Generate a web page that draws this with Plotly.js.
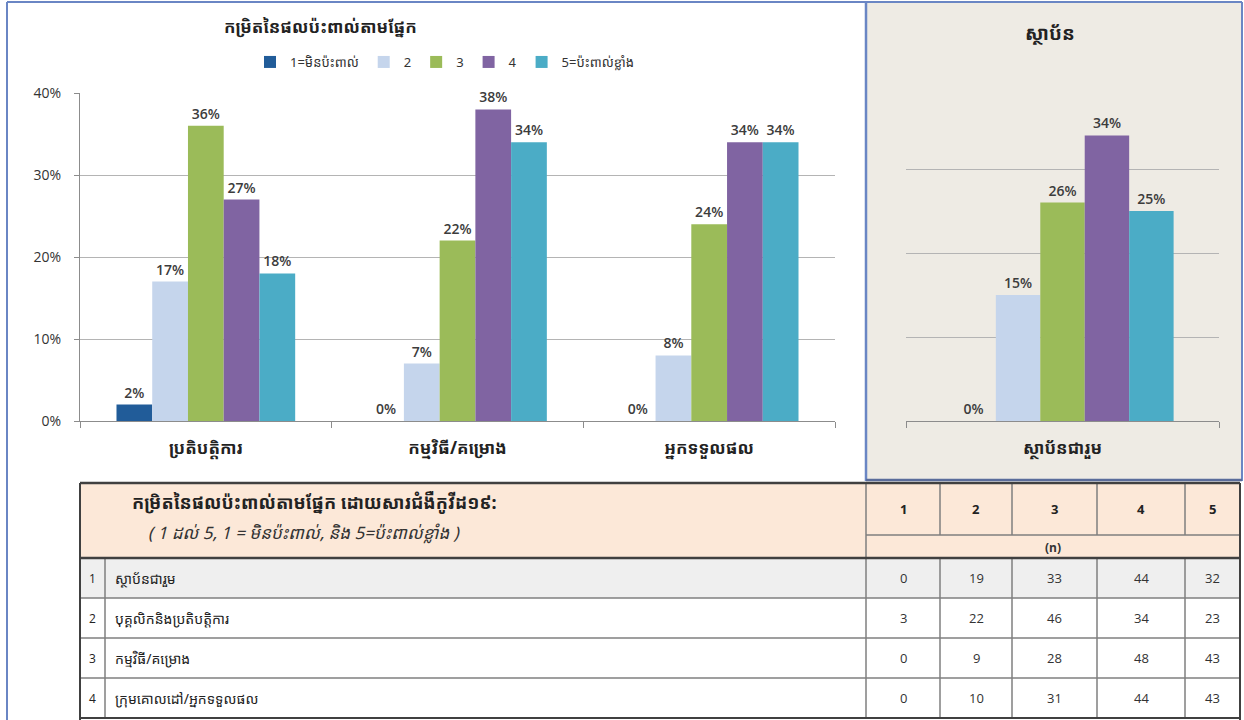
<!DOCTYPE html>
<html>
<head>
<meta charset="utf-8">
<script src="https://cdn.plot.ly/plotly-3.0.1.min.js"></script>
<style>
  html, body { margin: 0; padding: 0; background: #ffffff; }
  #chart { width: 1244px; height: 720px; }
</style>
</head>
<body>
<div id="chart"></div>
<script>
// ---------------- DATA ----------------
const chartTitle = "កម្រិតនៃផលប៉ះពាល់តាមផ្នែក";
const sideTitle = "ស្ថាប័ន";
const categories = ["ប្រតិបត្តិការ", "កម្មវិធី/គម្រោង", "អ្នកទទួលផល"];
const sideCategories = ["ស្ថាប័នជារួម"];
const seriesNames = ["1=មិនប៉ះពាល់", "2", "3", "4", "5=ប៉ះពាល់ខ្លាំង"];
// percentages per series, across categories
const level1 = [2, 0, 0];
const level2 = [17, 7, 8];
const level3 = [36, 22, 24];
const level4 = [27, 38, 34];
const level5 = [18, 34, 34];
// institution overall (right panel), per series
const overall = [0, 15, 26, 34, 25];
const yTicks = [0, 10, 20, 30, 40];
const yTickLabels = ["0%", "10%", "20%", "30%", "40%"];

// table
const tableTitle = "កម្រិតនៃផលប៉ះពាល់តាមផ្នែក ដោយសារជំងឺកូវីដ១៩:";
const tableSubtitle = "( 1 ដល់ 5, 1 = មិនប៉ះពាល់, និង 5=ប៉ះពាល់ខ្លាំង )";
const tableLevels = ["1", "2", "3", "4", "5"];
const tableUnit = "(n)";
const rowIndex = ["1", "2", "3", "4"];
const rowLabels = ["ស្ថាប័នជារួម", "បុគ្គលិកនិងប្រតិបត្តិការ", "កម្មវិធី/គម្រោង", "ក្រុមគោលដៅ/អ្នកទទួលផល"];
const countsOverall = [0, 19, 33, 44, 32];
const countsStaff = [3, 22, 46, 34, 23];
const countsProgram = [0, 9, 28, 48, 43];
const countsTarget = [0, 10, 31, 44, 43];

// ---------------- STYLE ----------------
const W = 1244, H = 720;
const px = x => x / W;
const py = y => 1 - y / H;
const colors = ["#215C99", "#C5D5EC", "#9BBB59", "#8064A2", "#4BACC6"];
const KH = "'Noto Sans Khmer', 'Khmer OS', 'Noto Sans', 'DejaVu Sans', sans-serif";
const NUM = "'Open Sans', 'Noto Sans', sans-serif";
const labelFont = {family: NUM, size: 14, color: "#3C3C3C", weight: 600};

const seriesValues = [level1, level2, level3, level4, level5];
const traces = [];
seriesValues.forEach((vals, i) => {
  traces.push({
    type: "bar", name: seriesNames[i], x: categories, y: vals,
    xaxis: "x", yaxis: "y",
    marker: {color: colors[i]},
    text: vals.map(v => v + "%"), textposition: "outside", cliponaxis: false,
    textfont: labelFont, hoverinfo: "skip"
  });
});
overall.forEach((v, i) => {
  traces.push({
    type: "bar", name: seriesNames[i], x: sideCategories, y: [v],
    xaxis: "x2", yaxis: "y2", showlegend: false,
    marker: {color: colors[i]},
    text: [v + "%"], textposition: "outside", cliponaxis: false,
    textfont: labelFont, hoverinfo: "skip"
  });
});

// ---------------- TABLE (shapes + annotations) ----------------
const shapes = [];
const annotations = [];
const blue = "#6A86C4";
const line = (x0, y0, x1, y1, color, w) => shapes.push({type: "line", xref: "paper", yref: "paper",
  x0: px(x0), y0: py(y0), x1: px(x1), y1: py(y1), line: {color: color, width: w}});
const rect = (x0, y0, x1, y1, fill) => shapes.push({type: "rect", xref: "paper", yref: "paper",
  x0: px(x0), y0: py(y0), x1: px(x1), y1: py(y1), fillcolor: fill, line: {width: 0}, layer: "below"});

// right panel background
rect(866, 2, 1242, 480, "#EEEBE4");
// panel borders
line(7, 2, 1242, 2, blue, 2);
line(7, 2, 7, 720, blue, 2);
line(866, 2, 866, 481, blue, 2.5);
line(1242, 2, 1242, 481, blue, 2);
line(866, 480, 1242, 480, "#5A6C9A", 2.5);

const tX = [80, 105, 866, 940, 1012, 1097, 1185, 1240];
const hTop = 483, hMid = 535, hBot = 558;
const rowY = [558, 598, 638, 678, 718];
rect(80, hTop, 1240, hBot, "#FCE8D8");
rect(80, rowY[0], 1240, rowY[1], "#EFEFEF");
rect(80, rowY[1], 1240, rowY[4], "#FFFFFF");
const grid = "#7F7F7F";
for (let i = 3; i < 7; i++) line(tX[i], hTop, tX[i], hMid, grid, 1.5);
line(866, hTop, 866, hBot, grid, 1.5);
line(866, hMid, 1240, hMid, grid, 1.5);
for (let r = 1; r < 4; r++) line(80, rowY[r], 1240, rowY[r], grid, 1.5);
[105, 866, 940, 1012, 1097, 1185].forEach(x => line(x, hBot, x, 718, grid, 1.5));
line(80, hBot, 1240, hBot, "#404040", 2.5);
line(80, hTop, 1240, hTop, "#404040", 2.5);
line(80, hTop, 80, 720, "#404040", 2);
line(1240, hTop, 1240, 720, "#404040", 2);
line(80, 718, 1240, 718, "#404040", 2);

const ann = (x, y, text, font, xanchor) => annotations.push({xref: "paper", yref: "paper",
  x: px(x), y: py(y), text: text, showarrow: false, font: font, xanchor: xanchor || "center", yanchor: "middle"});

ann(130, 502, "<b>" + tableTitle + "</b>", {family: KH, size: 18, color: "#222"}, "left");
ann(146, 532, "<i>" + tableSubtitle + "</i>", {family: KH, size: 17, color: "#333"}, "left");
tableLevels.forEach((t, i) => ann((tX[i + 2] + tX[i + 3]) / 2, 509, "<b>" + t + "</b>", {family: NUM, size: 13, color: "#222"}));
ann(1053, 547, "<b>" + tableUnit + "</b>", {family: NUM, size: 12, color: "#333"});
const tableCounts = [countsOverall, countsStaff, countsProgram, countsTarget];
tableCounts.forEach((row, r) => {
  const yc = (rowY[r] + rowY[r + 1]) / 2;
  ann(92, yc, rowIndex[r], {family: NUM, size: 12, color: "#222"});
  ann(113, yc, rowLabels[r], {family: KH, size: 14, color: "#222"}, "left");
  row.forEach((v, c) => ann((tX[c + 2] + tX[c + 3]) / 2, yc, String(v), {family: NUM, size: 13, color: "#333"}));
});

// chart titles
ann(321, 27, "<b>" + chartTitle + "</b>", {family: KH, size: 17, color: "#222"});
ann(1050, 33, "<b>" + sideTitle + "</b>", {family: KH, size: 19, color: "#222"});

const layout = {
  width: W, height: H,
  margin: {l: 0, r: 0, t: 0, b: 0},
  paper_bgcolor: "rgba(0,0,0,0)", plot_bgcolor: "rgba(0,0,0,0)",
  barmode: "group", bargap: 0.29, bargroupgap: 0,
  showlegend: true,
  legend: {orientation: "h", x: px(445), xanchor: "center", y: py(62), yanchor: "middle",
    font: {family: KH, size: 13, color: "#333"}, itemwidth: 30, tracegroupgap: 0, bgcolor: "rgba(0,0,0,0)"},
  xaxis: {domain: [px(80), px(835)], anchor: "y", type: "category",
    showline: true, linecolor: "#8C8C8C", linewidth: 1, ticks: "outside", tickson: "boundaries",
    ticklen: 6, tickcolor: "#8C8C8C", ticklabelstandoff: 12,
    tickfont: {family: KH, size: 17, color: "#222", weight: 700}, showgrid: false},
  yaxis: {domain: [py(421), py(93)], anchor: "x", range: [0, 40], tickmode: "array",
    tickvals: yTicks, ticktext: yTickLabels,
    showline: true, linecolor: "#8C8C8C", ticks: "outside", ticklen: 5, tickcolor: "#8C8C8C",
    ticklabelstandoff: 10, showgrid: true, gridcolor: "#B4B4B4", zeroline: false,
    tickfont: {family: NUM, size: 14, color: "#333"}},
  xaxis2: {domain: [px(906), px(1219)], anchor: "y2", type: "category",
    showline: true, linecolor: "#8C8C8C", ticks: "outside", tickson: "boundaries",
    ticklen: 6, tickcolor: "#8C8C8C", ticklabelstandoff: 12,
    tickfont: {family: KH, size: 17, color: "#222", weight: 700}, showgrid: false},
  yaxis2: {domain: [py(421), py(85)], anchor: "x2", range: [0, 40], tickvals: yTicks,
    showticklabels: false, showline: false, zeroline: false, showgrid: true, gridcolor: "#B4B4B4"},
  shapes: shapes, annotations: annotations
};

Plotly.newPlot("chart", traces, layout, {staticPlot: true});
</script>
</body>
</html>
